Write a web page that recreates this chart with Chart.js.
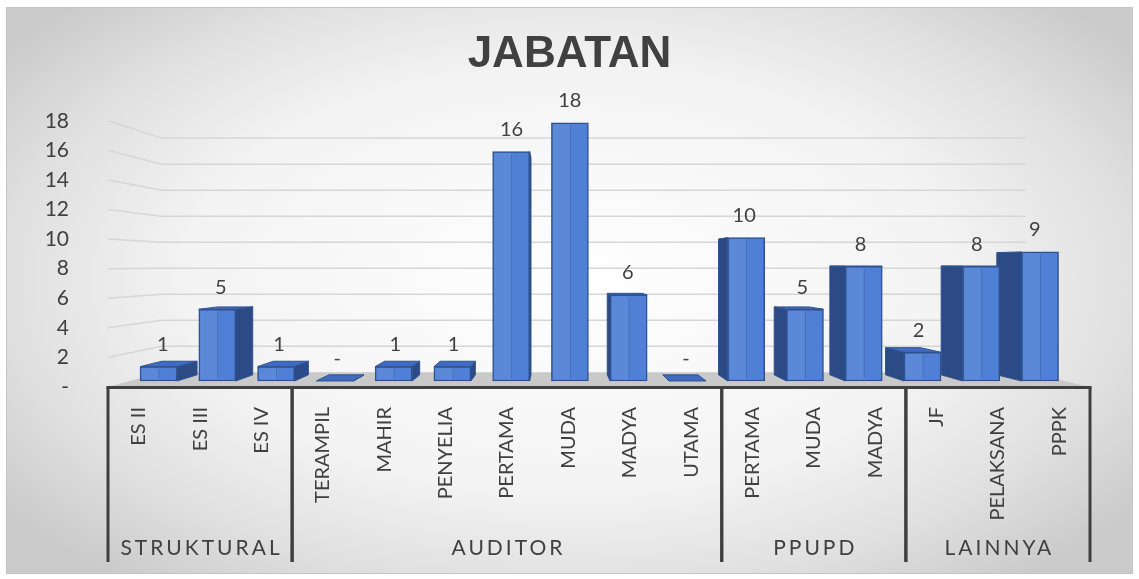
<!DOCTYPE html>
<html>
<head>
<meta charset="utf-8">
<title>Jabatan</title>
<script src="https://cdn.jsdelivr.net/npm/chart.js@4"></script>
<style>
  html, body { margin: 0; padding: 0; background: #fff; }
  canvas { display: block; }
</style>
</head>
<body>
<canvas id="jabatan-chart" width="1139" height="579"></canvas>
<script>
const categories = ['ES II', 'ES III', 'ES IV', 'TERAMPIL', 'MAHIR', 'PENYELIA', 'PERTAMA', 'MUDA',
    'MADYA', 'UTAMA', 'PERTAMA', 'MUDA', 'MADYA', 'JF', 'PELAKSANA', 'PPPK'];
const counts = [1, 5, 1, 0, 1, 1, 16, 18, 6, 0, 10, 5, 8, 2, 8, 9];
const groupNames = ['STRUKTURAL', 'AUDITOR', 'PPUPD', 'LAINNYA'];
const groupSizes = [3, 7, 3, 3];
const yTicks = [0, 2, 4, 6, 8, 10, 12, 14, 16, 18];

// fake Excel 3D: back faces shrink toward a vanishing point
const VX = 555, VY = 265, DEPTH = 0.947, WALL = 0.88;
const FRONT = '#4f80d6', EDGE = '#2f528f', SIDE = '#2c4a85', TOP = '#3f6cc0';
const TEXT = '#404040';

const fmt = v => v === 0 ? '-' : String(v);

function poly(ctx, pts, fill, stroke) {
    ctx.beginPath();
    ctx.moveTo(pts[0], pts[1]);
    for (let i = 2; i < pts.length; i += 2) ctx.lineTo(pts[i], pts[i + 1]);
    ctx.closePath();
    ctx.fillStyle = fill;
    ctx.fill();
    if (stroke) {
        ctx.strokeStyle = stroke;
        ctx.lineWidth = 1;
        ctx.stroke();
    }
}

const backdrop = {
    id: 'backdrop',
    beforeDraw(chart) {
        const ctx = chart.ctx;
        ctx.save();
        ctx.fillStyle = '#fff';
        ctx.fillRect(0, 0, chart.width, chart.height);
        ctx.beginPath();
        ctx.rect(6, 7, 1127, 567);
        ctx.clip();
        ctx.translate(570, 280);
        ctx.scale(1, 0.55);
        const g = ctx.createRadialGradient(0, 0, 0, 0, 0, 700);
        g.addColorStop(0, '#ffffff');
        g.addColorStop(0.55, '#f3f3f3');
        g.addColorStop(0.8, '#e0e0e0');
        g.addColorStop(1, '#cbcbcb');
        ctx.fillStyle = g;
        ctx.fillRect(-700, -700, 1400, 1400);
        ctx.restore();
        ctx.save();
        ctx.strokeStyle = '#c4c4c4';
        ctx.strokeRect(6.5, 7.5, 1126, 566);
        ctx.restore();
    }
};

const walls = {
    id: 'walls',
    beforeDatasetsDraw(chart) {
        const ctx = chart.ctx;
        const area = chart.chartArea;
        const y = chart.scales.y;
        const lx = VX + (area.left - VX) * WALL;
        const rx = VX + (area.right - VX) * WALL;
        ctx.save();
        // floor
        const fb = VY + (area.bottom - VY) * WALL;
        poly(ctx, [area.left, area.bottom, area.right, area.bottom, rx, fb, lx, fb], '#c9c9c9');
        // grid on side and back walls
        ctx.strokeStyle = '#d6d6d6';
        ctx.lineWidth = 1.5;
        y.ticks.forEach(t => {
            if (t.value === 0) return;
            const fy = y.getPixelForValue(t.value);
            const by = VY + (fy - VY) * WALL;
            ctx.beginPath();
            ctx.moveTo(area.left, fy);
            ctx.lineTo(lx, by);
            ctx.lineTo(rx, by);
            ctx.stroke();
        });
        // side and top faces of the bars
        chart.getDatasetMeta(0).data.forEach(bar => {
            const { x, y: top, base, width } = bar.getProps(['x', 'y', 'base', 'width'], true);
            const x1 = x - width / 2, x2 = x + width / 2;
            const bx1 = VX + (x1 - VX) * DEPTH, bx2 = VX + (x2 - VX) * DEPTH;
            const bt = VY + (top - VY) * DEPTH, bb = VY + (base - VY) * DEPTH;
            if (bx2 > x2) poly(ctx, [x2, top, bx2, bt, bx2, bb, x2, base], SIDE, EDGE);
            if (bx1 < x1) poly(ctx, [x1, top, bx1, bt, bx1, bb, x1, base], SIDE, EDGE);
            if (bt < top) poly(ctx, [x1, top, x2, top, bx2, bt, bx1, bt], TOP, EDGE);
        });
        ctx.restore();
    }
};

const valueLabels = {
    id: 'valueLabels',
    afterDatasetsDraw(chart) {
        const ctx = chart.ctx;
        ctx.save();
        chart.getDatasetMeta(0).data.forEach((bar, i) => {
            const { x, y: top, base, width } = bar.getProps(['x', 'y', 'base', 'width'], true);
            // soft highlight on the left part of the front face
            if (base - top > 2) {
                ctx.fillStyle = 'rgba(255,255,255,0.07)';
                ctx.fillRect(x - width / 2 + 1.5, top + 1.5, width * 0.5, base - top - 3);
                ctx.strokeStyle = 'rgba(40,70,140,0.45)';
                ctx.lineWidth = 1;
                ctx.beginPath();
                ctx.moveTo(x + 0.5, top + 2);
                ctx.lineTo(x + 0.5, base - 2);
                ctx.stroke();
            }
            const bx = VX + (x - VX) * DEPTH;
            ctx.font = '20px Lato';
            ctx.fillStyle = TEXT;
            ctx.textAlign = 'center';
            ctx.textBaseline = 'middle';
            ctx.fillText(fmt(counts[i]), x + (bx - x) * 0.2, top - 22);
        });
        ctx.restore();
    }
};

const groupAxis = {
    id: 'groupAxis',
    afterDraw(chart) {
        const ctx = chart.ctx;
        const xs = chart.scales.x;
        const area = chart.chartArea;
        const lineBottom = 562;
        ctx.save();
        ctx.strokeStyle = '#3f3f3f';
        ctx.lineWidth = 3;
        ctx.beginPath();
        ctx.moveTo(area.left - 1.5, area.bottom + 0.5);
        ctx.lineTo(area.right + 1.5, area.bottom + 0.5);
        ctx.stroke();
        ctx.font = '21px Lato';
        ctx.fillStyle = TEXT;
        ctx.textAlign = 'center';
        ctx.textBaseline = 'middle';
        ctx.letterSpacing = '3px';
        let start = 0;
        groupNames.forEach((name, g) => {
            const left = xs.getPixelForValue(start - 0.5);
            const right = xs.getPixelForValue(start + groupSizes[g] - 0.5);
            [left, right].forEach(px => {
                ctx.beginPath();
                ctx.moveTo(px, area.bottom);
                ctx.lineTo(px, lineBottom);
                ctx.stroke();
            });
            ctx.fillText(name, (left + right) / 2 + 1.5, 548);
            start += groupSizes[g];
        });
        ctx.restore();
    }
};

new Chart(document.getElementById('jabatan-chart').getContext('2d'), {
    type: 'bar',
    data: {
        labels: categories,
        datasets: [{
            label: 'Jabatan',
            data: counts.map((v, i) => ({ x: i, y: v })),
            xAxisID: 'xb',
            yAxisID: 'yb',
            backgroundColor: FRONT,
            borderColor: EDGE,
            borderWidth: 1.5,
            borderSkipped: false,
            barThickness: 37,
        }]
    },
    options: {
        responsive: false,
        animation: false,
        layout: { padding: 0 },
        scales: {
            x: {
                type: 'category',
                position: 'bottom',
                offset: true,
                grid: { display: false },
                border: { display: false },
                ticks: {
                    autoSkip: false,
                    minRotation: 90,
                    maxRotation: 90,
                    padding: 12,
                    color: TEXT,
                    font: { family: 'Lato', size: 20 },
                },
                afterFit: s => { s.height = 192; },
            },
            y: {
                type: 'linear',
                position: 'left',
                min: 0,
                max: 18,
                grid: { display: false },
                border: { display: false },
                afterBuildTicks: s => { s.ticks = yTicks.map(v => ({ value: v })); },
                ticks: {
                    padding: 31,
                    color: TEXT,
                    font: { family: 'Lato', size: 21 },
                    callback: v => fmt(v),
                },
                afterFit: s => { s.width = 108; },
            },
            xb: {
                type: 'linear',
                display: false,
                offset: false,
                bounds: 'data',
                grid: { offset: false },
                min: -0.86,
                max: 15.85,
            },
            yb: {
                type: 'linear',
                position: 'right',
                offset: false,
                min: -0.42,
                max: 18.14,
                grid: { display: false },
                border: { display: false },
                ticks: { display: false },
                afterFit: s => { s.width = 49; },
            },
        },
        plugins: {
            legend: { display: false },
            tooltip: { enabled: false },
            title: {
                display: true,
                text: 'JABATAN',
                color: TEXT,
                font: { family: 'Liberation Sans', size: 44, weight: 'bold' },
                padding: { top: 28, bottom: 40 },
            },
        }
    },
    plugins: [backdrop, walls, valueLabels, groupAxis]
});
</script>
</body>
</html>
